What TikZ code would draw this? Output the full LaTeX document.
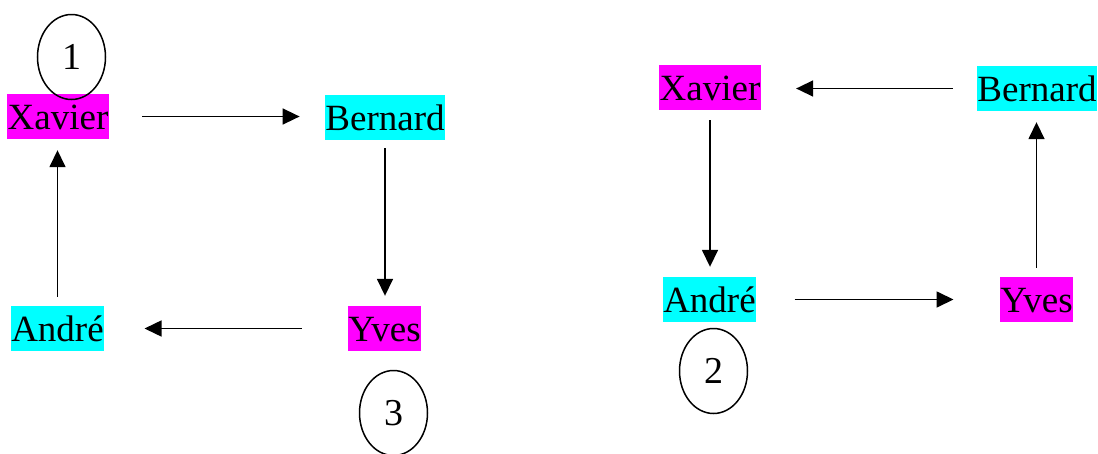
\documentclass[tikz,border=0pt]{standalone}
\usepackage{fontspec}
\setmainfont{Liberation Serif}
\usetikzlibrary{arrows.meta,shapes.geometric}
\definecolor{mag}{HTML}{FF00FF}
\definecolor{cya}{HTML}{00FFFF}
\begin{document}
\begin{tikzpicture}[x=1pt,y=-1pt,
  personlbl/.style={font=\fontsize{37}{40}\selectfont, text height=35pt, text depth=10pt, inner ysep=0pt, inner xsep=0.6pt},
  pbox/.style={personlbl, fill=mag},
  cbox/.style={personlbl, fill=cya},
  numell/.style={ellipse, draw, line width=1.5pt, minimum width=68pt, minimum height=85pt, inner sep=0pt, font=\fontsize{38}{40}\selectfont},
  arr/.style={line width=1.6pt, -{Triangle[length=17pt,width=16pt]}}]
\useasboundingbox (0,0) rectangle (1098,453);
% left cycle
\node[pbox] (x1) at (58,116.5) {Xavier};
\node[cbox] (b1) at (385,117.5) {Bernard};
\node[cbox] (a1) at (57.5,328.5) {André};
\node[pbox] (y1) at (384.5,328.5) {Yves};
\node[numell] (n1) at (71.5,57) {1};
\node[numell] (n3) at (393.5,413) {3};
\draw[arr, shorten <=33pt, shorten >=25pt] (x1.east) -- (x1.east -| b1.west);
\draw[arr, shorten <=8pt, shorten >=10pt] (b1.south) -- (b1.south |- y1.north);
\draw[arr, shorten <=46pt, shorten >=40pt] (y1.west) -- (y1.west -| a1.east);
\draw[arr, shorten <=9pt, shorten >=11pt] (a1.north) -- (a1.north |- x1.south);
% right cycle
\node[pbox] (x2) at (710,87.5) {Xavier};
\node[cbox] (b2) at (1037,88.5) {Bernard};
\node[cbox] (a2) at (709.5,299.5) {André};
\node[pbox] (y2) at (1036.5,299.5) {Yves};
\node[numell] (n2) at (713.5,371) {2};
\draw[arr, shorten <=24pt, shorten >=35pt] (b2.west) -- (b2.west -| x2.east);
\draw[arr, shorten <=10pt, shorten >=10pt] (x2.south) -- (x2.south |- a2.north);
\draw[arr, shorten <=38pt, shorten >=46pt] (a2.east) -- (a2.east -| y2.west);
\draw[arr, shorten <=9pt, shorten >=11pt] (y2.north) -- (y2.north |- b2.south);
\end{tikzpicture}
\end{document}
